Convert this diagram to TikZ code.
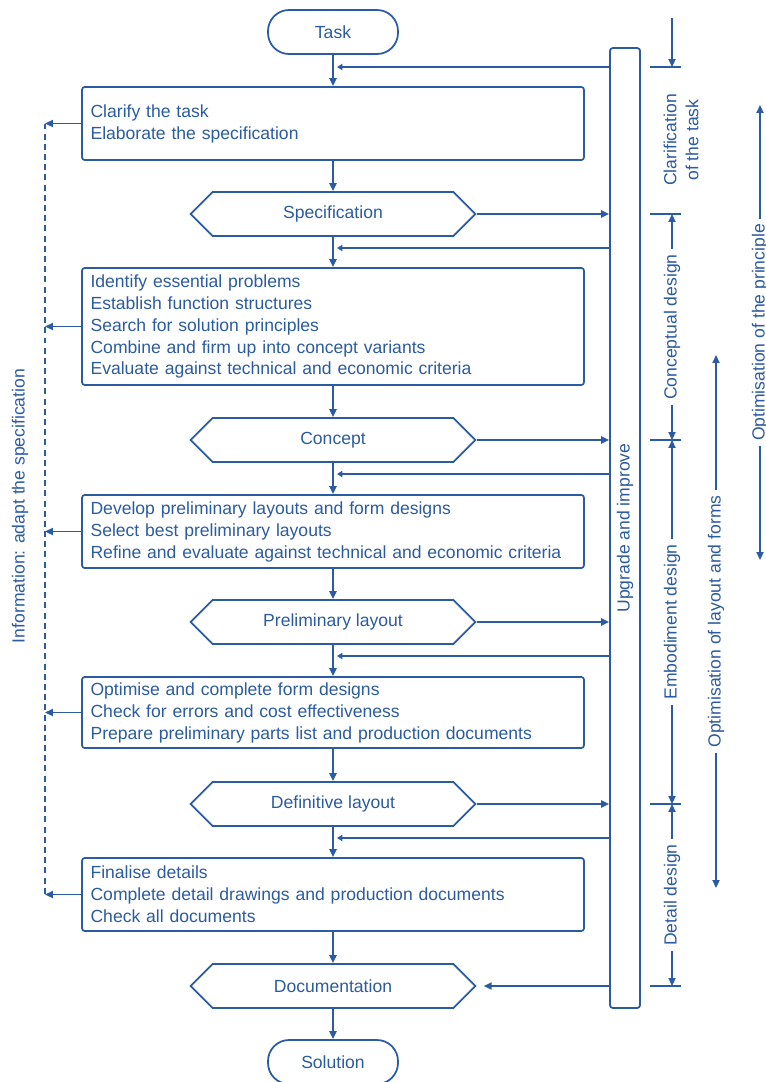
\documentclass[tikz,border=0pt]{standalone}
\usepackage{fontspec}
\setmainfont{Liberation Sans}
\usetikzlibrary{arrows.meta,shapes.symbols}
\definecolor{ink}{HTML}{2B5BA0}

\begin{document}
\begin{tikzpicture}[x=0.02cm,y=-0.02cm,
  every node/.style={font=\fontsize{10}{12.5}\selectfont, text=ink},
  line/.style={draw=ink, line width=1pt},
  arr/.style={line, -{Triangle[length=4.5pt,width=4pt]}},
  fb/.style={line, -{Triangle[length=3pt,width=3.5pt]}},
  both/.style={line, {Triangle[length=4.5pt,width=4pt]}-{Triangle[length=4.5pt,width=4pt]}},
  stepbox/.style={draw=ink, line width=1pt, rounded corners=1.5pt,
    text width=9.7cm, inner xsep=0.17cm, inner ysep=0pt, align=left},
  result/.style={draw=ink, line width=1pt, shape=signal, signal to=west and east,
    signal pointer angle=90, minimum width=5.7cm, minimum height=0.88cm, inner sep=0pt},
  term/.style={draw=ink, line width=1pt, rounded corners=0.42cm,
    minimum width=2.6cm, minimum height=0.88cm, inner sep=0pt},
  phase/.style={midway, rotate=90, fill=white, inner sep=3pt}
]
\useasboundingbox (0,0) rectangle (766,1082);

% main column
\node[term] (task) at (333,32) {Task};
\node[stepbox, minimum height=1.46cm] (b1) at (333,123.5)
  {Clarify the task\\Elaborate the specification};
\node[result] (spec) at (333,214) {Specification};
\node[stepbox, minimum height=2.34cm] (b2) at (333,326.5)
  {Identify essential problems\\Establish function structures\\Search for solution principles\\Combine and firm up into concept variants\\Evaluate against technical and economic criteria};
\node[result] (concept) at (333,440) {Concept};
\node[stepbox, minimum height=1.46cm] (b3) at (333,531.5)
  {Develop preliminary layouts and form designs\\Select best preliminary layouts\\Refine and evaluate against technical and economic criteria};
\node[result] (prelim) at (333,622) {Preliminary layout};
\node[stepbox, minimum height=1.42cm] (b4) at (333,712.5)
  {Optimise and complete form designs\\Check for errors and cost effectiveness\\Prepare preliminary parts list and production documents};
\node[result] (defin) at (333,804) {Definitive layout};
\node[stepbox, minimum height=1.46cm] (b5) at (333,894.5)
  {Finalise details\\Complete detail drawings and production documents\\Check all documents};
\node[result] (doc) at (333,986) {Documentation};
\node[term] (sol) at (333,1062) {Solution};

\foreach \a/\b in {task/b1, b1/spec, spec/b2, b2/concept, concept/b3,
                   b3/prelim, prelim/b4, b4/defin, defin/b5, b5/doc, doc/sol}
  \draw[arr] (\a) -- (\b);

% upgrade bar
\node[draw=ink, line width=1pt, rounded corners=1.5pt, rotate=90,
      minimum width=19.2cm, minimum height=0.6cm, inner sep=0pt] (bar) at (625,528)
  {Upgrade and improve};

% returns from the bar into the main column
\foreach \n/\y in {f0/67, f1/248, f2/474, f3/656, f4/838}{
  \coordinate (\n) at (337,\y);
  \draw[fb] (bar.north |- \n) -- (\n);
}
\foreach \r in {spec, concept, prelim, defin}
  \draw[arr] (\r.east) -- (\r.east -| bar.north);
\draw[arr, shorten >=4pt] (doc.east -| bar.north) -- (doc.east);

% information feedback on the left
\coordinate (itop) at (45,123.5);
\coordinate (ibot) at (45,894.5);
\draw[line, dash pattern=on 3.4pt off 2.4pt] (itop) -- (ibot);
\foreach \b in {b1,b2,b3,b4,b5}
  \draw[arr] (\b.west) -- (\b.west -| itop);
\node[rotate=90] (info) at (20,506) {Information: adapt the specification};

% phases
\coordinate (t0) at (672,67);
\coordinate (t1) at (672,214);
\coordinate (t2) at (672,440);
\coordinate (t3) at (672,804);
\coordinate (t4) at (672,986);
\foreach \t in {t0,t1,t2,t3,t4}
  \draw[line] ([xshift=-0.44cm]\t) -- ([xshift=0.18cm]\t);
\coordinate (ctop) at (672,18);
\draw[arr] (ctop) -- (t0);
\node[rotate=90, align=center] (clar) at (681,140) {Clarification\\of the task};
\draw[both] (t1) -- (t2) node[phase] (cd) {Conceptual design};
\draw[both] (t2) -- (t3) node[phase] (ed) {Embodiment design};
\draw[both] (t3) -- (t4) node[phase] (dd) {Detail design};

% optimisation ranges
\coordinate (p1) at (760,105);
\coordinate (p2) at (760,560);
\draw[both] (p1) -- (p2) node[phase] (op) {Optimisation of the principle};
\coordinate (l1) at (716,355);
\coordinate (l2) at (716,888);
\draw[both] (l1) -- (l2) node[phase] (ol) {Optimisation of layout and forms};
\end{tikzpicture}
\end{document}
